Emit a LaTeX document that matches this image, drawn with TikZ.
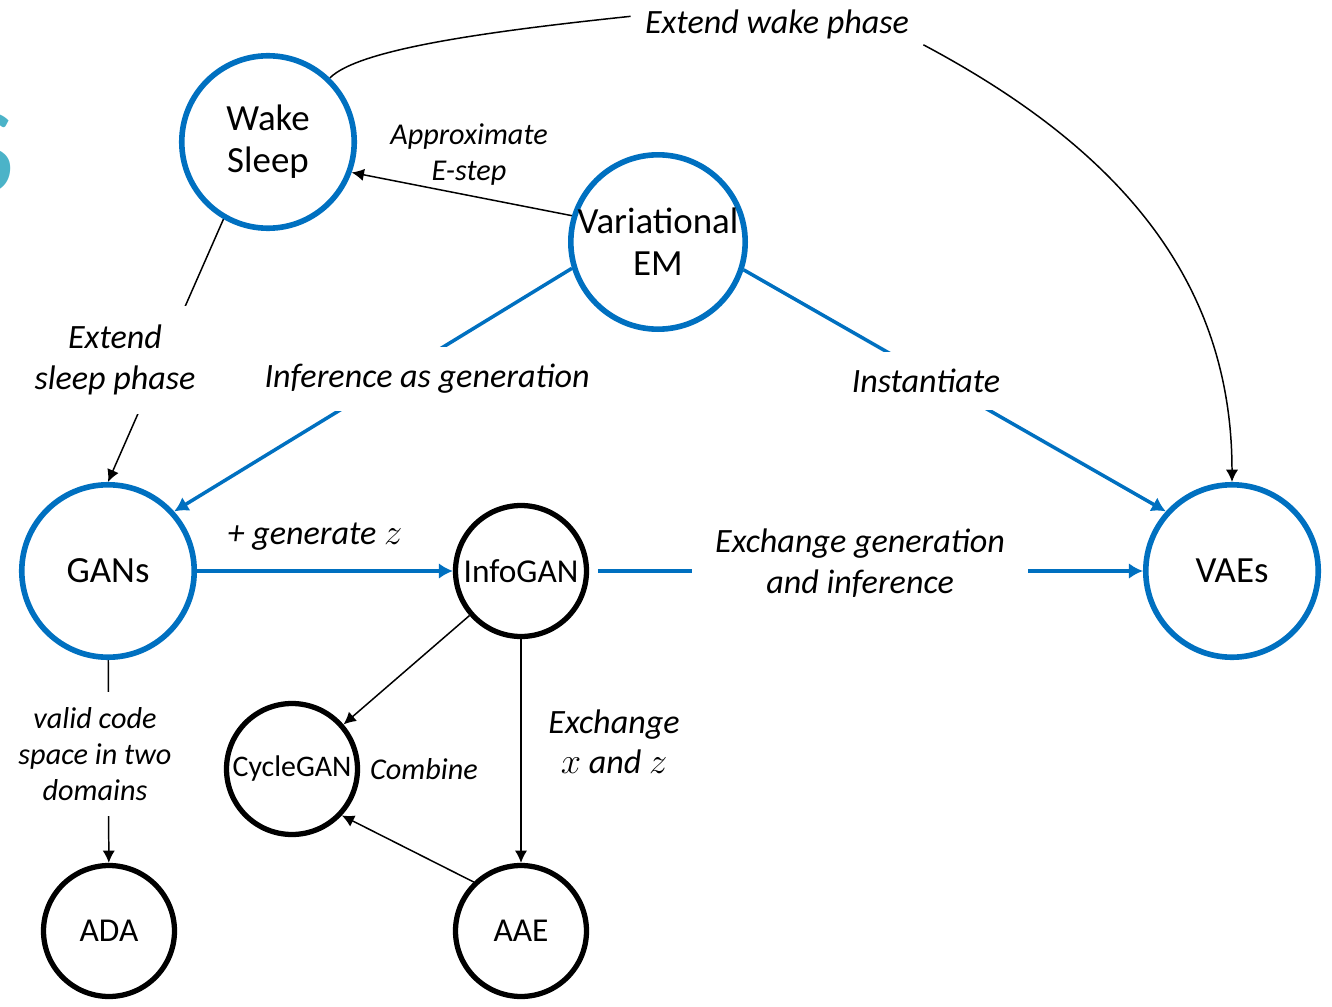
\documentclass[tikz,border=0pt]{standalone}
\usepackage{fontspec}
\setmainfont{Carlito}
\usetikzlibrary{arrows.meta, backgrounds}
\definecolor{nodeblue}{HTML}{0070C0}
\definecolor{titleteal}{HTML}{4BB3C8}

\begin{document}
\begin{tikzpicture}[x=0.02cm, y=-0.02cm,
    % Styles
    model/.style={circle, draw=nodeblue, line width=3.2pt, minimum size=3.45cm, inner sep=0pt, align=center, font=\fontsize{21}{24}\selectfont},
    variant/.style={circle, draw=black, line width=3pt, minimum size=2.62cm, inner sep=0pt, align=center, font=\fontsize{19}{22}\selectfont},
    blue-arrow/.style={-{Latex[length=8pt, width=9pt]}, nodeblue, line width=2pt},
    thin-arrow/.style={-{Latex[length=7pt, width=7pt]}, black, line width=0.85pt},
    note/.style={font=\fontsize{19.4}{23}\selectfont\itshape, align=center},
    small-note/.style={font=\fontsize{17.2}{20.5}\selectfont\itshape, align=center},
]

\useasboundingbox (0,0) rectangle (1332,1007);

% Cut-off heading letter on the left edge
\node[anchor=base east, text=titleteal, font=\fontsize{70}{70}\selectfont, inner sep=0pt] (title) at (15,193) {S};

% Models
\node[model] (wake) at (268,142) {Wake\\Sleep};
\node[model] (vem) at (658,242) {Variational\\EM};
\node[model] (gans) at (108,571) {GANs};
\node[model] (vaes) at (1232,571) {VAEs};

% GAN variants
\node[variant] (infogan) at (521,571) {InfoGAN};
\node[variant, font=\fontsize{17}{20}\selectfont] (cyclegan) at (292,769) {CycleGAN};
\node[variant] (ada) at (109,931) {ADA};
\node[variant] (aae) at (521,931) {AAE};

% Edge labels
\node[note, inner xsep=8pt] (lwake) at (777,24) {Extend wake phase};
\node[small-note] (lapprox) at (469,155) {Approximate\\E-step};
\node[note, fill=white, inner ysep=11pt] (lsleep) at (115,360) {Extend\\sleep phase};
\node[note, fill=white, inner ysep=10pt] (linfer) at (427,379) {Inference as generation};
\node[note, fill=white, inner ysep=10pt] (linst) at (926,381) {Instantiate};
\node[note] (lgen) at (315,537) {+ generate $z$};
\node[note, fill=white, inner xsep=13pt] (lexch) at (860,563) {Exchange generation\\and inference};
\node[small-note, fill=white, inner ysep=9pt] (lvalid) at (95,754) {valid code\\space in two\\domains};
\node[note] (lxz) at (614,742) {Exchange\\$x$ and $z$};
\node[small-note] (lcomb) at (424,769) {Combine};

% Connectors (behind the labels)
\begin{scope}[on background layer]
    \draw[thin-arrow] (vem.163) -- (wake.-20);
    \draw[thin-arrow] (wake.240) -- (gans.north);
    \draw[blue-arrow] (vem.197) -- (gans.42);
    \draw[blue-arrow] (vem.-18) -- (vaes.138);
    \draw[blue-arrow] (gans) -- (infogan);
    \draw[blue-arrow, shorten <=5pt] (infogan) -- (vaes);
    \draw[thin-arrow] (gans) -- (ada);
    \draw[thin-arrow] (infogan) -- (cyclegan);
    \draw[thin-arrow] (infogan) -- (aae);
    \draw[thin-arrow] (aae.134) -- (cyclegan.-43);
    \draw[line width=0.85pt] (wake.46) .. controls +(45:0.8cm) and +(186:3cm) .. (lwake.177);
    \draw[thin-arrow] (lwake.south east) to[out=-28, in=90] (vaes.north);
\end{scope}

\end{tikzpicture}
\end{document}
